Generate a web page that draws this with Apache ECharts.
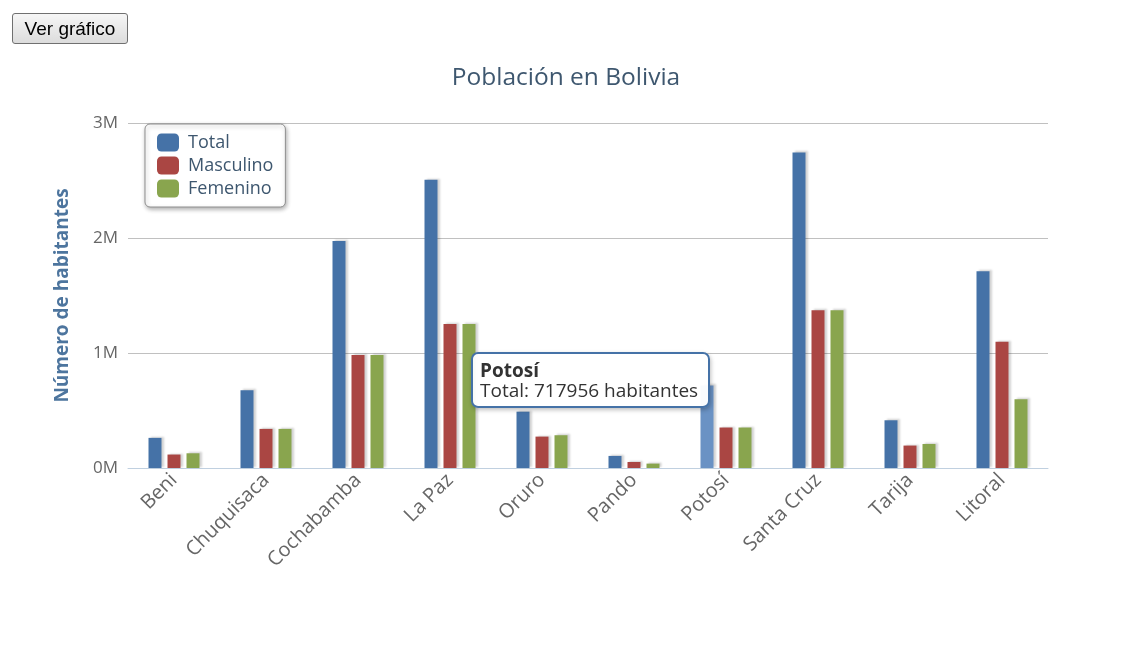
<!DOCTYPE html>
<html>
<head>
<meta charset="utf-8">
<title>Población en Bolivia</title>
<script src="https://cdn.jsdelivr.net/npm/echarts@6/dist/echarts.min.js"></script>
<style>
    html, body { margin: 0; padding: 0; background: #fff; }
    #container { position: absolute; left: 0; top: 0; width: 1132px; height: 658px; }
    #ver {
        position: absolute; left: 12px; top: 13px; width: 116px; height: 31px;
        font-family: "Liberation Sans", Arial, sans-serif; font-size: 19px; color: #000;
        background: linear-gradient(#f6f6f6, #dcdcdc); border: 1px solid #707070;
        border-radius: 3px; padding: 0; z-index: 10;
    }
</style>
</head>
<body>
<div id="container"></div>
<button id="ver">Ver gráfico</button>
<script>
    // departamentos y poblacion
    var categorias = ['Beni', 'Chuquisaca', 'Cochabamba', 'La Paz', 'Oruro', 'Pando', 'Potosí', 'Santa Cruz', 'Tarija', 'Litoral'];
    var total = [262000, 677000, 1975000, 2506000, 490000, 105000, 717956, 2744000, 415000, 1711000];
    var masculino = [117000, 340000, 982000, 1252000, 273000, 52000, 352000, 1371000, 195000, 1098000];
    var femenino = [128000, 340000, 982000, 1252000, 285000, 38000, 352000, 1371000, 209000, 598000];
    var ticksY = [0, 1000000, 2000000, 3000000];

    var colores = ['#4572A7', '#AA4643', '#89A54E'];
    var fuente = '"Open Sans", "DejaVu Sans", sans-serif';
    var anchoBarra = 13;
    var separacion = 6;

    var myChart = echarts.init(document.getElementById('container'));

    var serie = function (nombre, datos, color, resaltado) {
        return {
            name: nombre,
            type: 'bar',
            data: datos,
            barWidth: anchoBarra,
            barGap: (separacion / anchoBarra * 100) + '%',
            itemStyle: {
                color: color,
                shadowColor: 'rgba(0, 0, 0, 0.18)',
                shadowBlur: 2,
                shadowOffsetX: 2,
                shadowOffsetY: -1
            },
            emphasis: {
                itemStyle: { color: resaltado || color }
            }
        };
    };

    var option = {
        backgroundColor: '#fff',
        animation: false,
        textStyle: { fontFamily: fuente },
        title: {
            text: 'Población en Bolivia',
            left: 'center',
            top: 61,
            textStyle: { color: '#3E576F', fontSize: 24.5, fontWeight: 'normal', fontFamily: fuente }
        },
        legend: {
            orient: 'vertical',
            left: 145,
            top: 124,
            padding: [9, 12, 9, 12],
            itemWidth: 22,
            itemHeight: 18,
            itemGap: 4,
            icon: 'roundRect',
            backgroundColor: '#fff',
            borderColor: '#909090',
            borderWidth: 1,
            borderRadius: 5,
            shadowColor: 'rgba(0, 0, 0, 0.3)',
            shadowBlur: 4,
            shadowOffsetX: 1,
            shadowOffsetY: 2,
            textStyle: { color: '#3E576F', fontSize: 18, lineHeight: 19, padding: [0, 0, 0, 4], fontFamily: fuente },
            data: ['Total', 'Masculino', 'Femenino']
        },
        tooltip: {
            trigger: 'item',
            triggerOn: 'none',
            alwaysShowContent: true,
            backgroundColor: 'rgba(255, 255, 255, 0.96)',
            borderColor: '#4572A7',
            borderWidth: 2,
            borderRadius: 7,
            padding: [6, 10, 6, 7],
            textStyle: { color: '#333', fontSize: 19, fontFamily: fuente },
            extraCssText: 'line-height:20px; box-shadow: 1px 2px 4px rgba(0,0,0,0.25);',
            formatter: function (p) {
                return '<b>' + p.name + '</b><br/>' + p.seriesName + ': ' + p.value + ' habitantes';
            },
            position: function (point, params, dom, rect, size) {
                var pt = myChart.convertToPixel({ xAxisIndex: 0, yAxisIndex: 0 }, [params.dataIndex, params.value]);
                var x = pt[0] - (anchoBarra + separacion) + 3 - size.contentSize[0];
                return [x, pt[1] - 33];
            }
        },
        grid: { left: 128, right: 84, top: 123, bottom: 190 },
        xAxis: {
            type: 'category',
            data: categorias,
            axisLine: { lineStyle: { color: '#C0D0E0' } },
            axisTick: { length: 5, lineStyle: { color: '#C0D0E0' } },
            axisLabel: { rotate: 45, margin: 9, color: '#666', fontSize: 20, fontFamily: fuente }
        },
        yAxis: {
            type: 'value',
            min: ticksY[0],
            max: ticksY[ticksY.length - 1],
            interval: ticksY[1] - ticksY[0],
            name: 'Número de habitantes',
            nameLocation: 'middle',
            nameRotate: 90,
            nameGap: 56,
            nameTextStyle: { color: '#4d759e', fontSize: 19, fontWeight: 'bold', fontFamily: fuente },
            axisLine: { show: false },
            axisTick: { show: false },
            axisLabel: {
                margin: 10,
                color: '#666',
                fontSize: 17,
                fontFamily: fuente,
                formatter: function (v) { return (v / 1000000) + 'M'; }
            },
            splitLine: { lineStyle: { color: '#C0C0C0' } }
        },
        series: [
            serie('Total', total, colores[0], '#6A92C4'),
            serie('Masculino', masculino, colores[1]),
            serie('Femenino', femenino, colores[2])
        ]
    };

    myChart.setOption(option);

    // tooltip fijo sobre Potosí
    var idx = categorias.indexOf('Potosí');
    myChart.dispatchAction({ type: 'highlight', seriesIndex: 0, dataIndex: idx });
    myChart.dispatchAction({ type: 'showTip', seriesIndex: 0, dataIndex: idx });
</script>
</body>
</html>
